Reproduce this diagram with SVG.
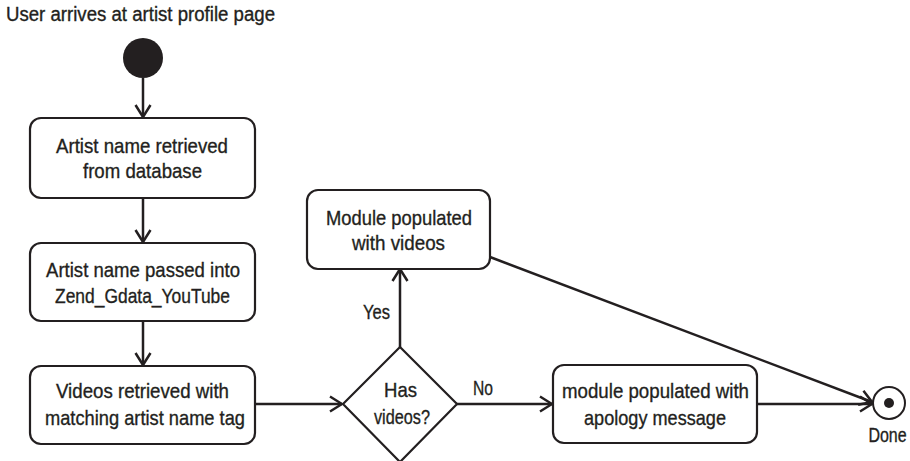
<svg xmlns="http://www.w3.org/2000/svg" width="910" height="461" viewBox="0 0 910 461">
<defs>
<style>
.t{font-family:"Liberation Sans",Arial,sans-serif;font-size:21px;fill:#231f20;stroke:#231f20;stroke-width:0.35;text-anchor:middle}
.box{fill:#fff;stroke:#231f20;stroke-width:2.2}
.ln{fill:none;stroke:#231f20;stroke-width:2.5}
</style>
<marker id="ah" viewBox="0 0 14 18" refX="13" refY="9" markerWidth="14" markerHeight="18" markerUnits="userSpaceOnUse" orient="auto">
<path d="M1,1.5 L13,9 L1,16.5" fill="none" stroke="#231f20" stroke-width="2.5"/>
</marker>
</defs>
<rect width="910" height="461" fill="#fff"/>
<text class="t" x="6" y="21" style="text-anchor:start;font-size:20px" textLength="269" lengthAdjust="spacingAndGlyphs">User arrives at artist profile page</text>
<g id="connectors">
<line class="ln" x1="143" y1="78" x2="143" y2="117" marker-end="url(#ah)"/>
<line class="ln" x1="143" y1="198" x2="143" y2="242" marker-end="url(#ah)"/>
<line class="ln" x1="143" y1="321" x2="143" y2="365" marker-end="url(#ah)"/>
<line class="ln" x1="255" y1="404" x2="342" y2="404" marker-end="url(#ah)"/>
<line class="ln" x1="400" y1="347" x2="400" y2="269" marker-end="url(#ah)"/>
<line class="ln" x1="456" y1="404" x2="552" y2="404" marker-end="url(#ah)"/>
<line class="ln" x1="757" y1="404" x2="872" y2="404" marker-end="url(#ah)"/>
<line class="ln" x1="490" y1="257" x2="872" y2="402" marker-end="url(#ah)"/>
<text class="t" x="376.5" y="319" textLength="27" lengthAdjust="spacingAndGlyphs">Yes</text>
<text class="t" x="483" y="395" textLength="20" lengthAdjust="spacingAndGlyphs">No</text>
</g>
<g id="start"><circle cx="143" cy="58" r="20" fill="#231f20"/></g>
<g id="n1"><rect class="box" x="30" y="118" width="225" height="80" rx="11"/>
<text class="t" x="142" y="153" textLength="172" lengthAdjust="spacingAndGlyphs">Artist name retrieved</text><text class="t" x="142.5" y="178" textLength="119" lengthAdjust="spacingAndGlyphs">from database</text></g>
<g id="n2"><rect class="box" x="30" y="243" width="225" height="78" rx="11"/>
<text class="t" x="143" y="277" textLength="194" lengthAdjust="spacingAndGlyphs">Artist name passed into</text><text class="t" x="142.5" y="303" textLength="175" lengthAdjust="spacingAndGlyphs">Zend_Gdata_YouTube</text></g>
<g id="n3"><rect class="box" x="30" y="366" width="225" height="78" rx="11"/>
<text class="t" x="142.5" y="398" textLength="173" lengthAdjust="spacingAndGlyphs">Videos retrieved with</text><text class="t" x="145" y="425" textLength="200" lengthAdjust="spacingAndGlyphs">matching artist name tag</text></g>
<g id="decision"><polygon class="box" points="400,347 457,404 400,462 343,404"/>
<text class="t" x="400.5" y="397" textLength="33" lengthAdjust="spacingAndGlyphs">Has</text><text class="t" x="402" y="424" textLength="56" lengthAdjust="spacingAndGlyphs">videos?</text></g>
<g id="n4"><rect class="box" x="307" y="190" width="183" height="79" rx="11"/>
<text class="t" x="399" y="225" textLength="146" lengthAdjust="spacingAndGlyphs">Module populated</text><text class="t" x="398.5" y="250" textLength="93" lengthAdjust="spacingAndGlyphs">with videos</text></g>
<g id="n5"><rect class="box" x="553" y="365" width="204" height="78" rx="11"/>
<text class="t" x="655.5" y="398" textLength="187" lengthAdjust="spacingAndGlyphs">module populated with</text><text class="t" x="655" y="425" textLength="142" lengthAdjust="spacingAndGlyphs">apology message</text></g>
<g id="end"><circle cx="889" cy="403" r="16" fill="#fff" stroke="#231f20" stroke-width="2"/><circle cx="889" cy="403" r="5" fill="#231f20"/>
<text class="t" transform="translate(887.5,442) scale(0.8,1)" x="0" y="0" style="font-size:20px">Done</text></g>
</svg>
